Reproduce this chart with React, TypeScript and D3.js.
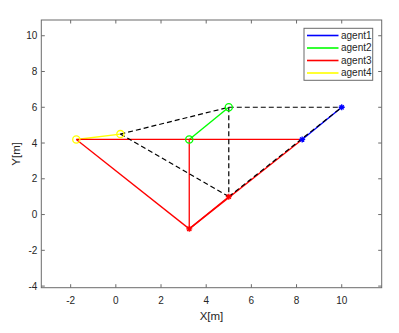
import React, { useEffect, useRef } from "react";
import * as d3 from "d3";

// agents and colours
const agents = ["agent1", "agent2", "agent3", "agent4"];
const agentColors = ["#0000ff", "#00ff00", "#ff0000", "#ffff00"];
const agentMarkers = ["star", "circle", "star", "circle"];

// initial positions (dashed black formation)
const startX = [10, 5, 5, 0.2];
const startY = [6, 6, 1, 4.5];

// final positions (red formation)
const endX = [8.25, 3.25, 3.25, -1.75];
const endY = [4.2, 4.2, -0.8, 4.2];

// formation edges (agent index pairs)
const edges = [[3, 1], [1, 0], [3, 2], [1, 2], [2, 0]];

// tick labels
const xTicks = [-2, 0, 2, 4, 6, 8, 10];
const yTicks = [-4, -2, 0, 2, 4, 6, 8, 10];

const App = () => {
    const svgRef = useRef<SVGSVGElement>(null);

    useEffect(() => {
        const svg = d3.select(svgRef.current);
        svg.selectAll("*").remove();

        const width = 399, height = 333;
        const margin = { top: 20, right: 17.3, bottom: 45.3, left: 41.3 };
        const font = "'Liberation Sans', Arial, sans-serif";
        const textColor = "#262626";
        const axisColor = "#6b6b6b";

        const x = d3.scaleLinear().domain([-3.3, 11.77]).range([margin.left, width - margin.right]);
        const y = d3.scaleLinear().domain([-4.09, 10.88]).range([height - margin.bottom, margin.top]);

        const x0 = margin.left, x1 = width - margin.right;
        const y0 = margin.top, y1 = height - margin.bottom;

        // white plot area
        svg.append("rect")
            .attr("x", x0).attr("y", y0)
            .attr("width", x1 - x0).attr("height", y1 - y0)
            .attr("fill", "white");

        const plot = svg.append("g");
        const line = d3.line<[number, number]>().x(d => x(d[0])).y(d => y(d[1]));

        // trajectories
        agents.forEach((_, i) => {
            plot.append("path")
                .attr("d", line([[startX[i], startY[i]], [endX[i], endY[i]]]))
                .attr("fill", "none")
                .attr("stroke", agentColors[i])
                .attr("stroke-width", 1.4);
        });

        // final formation in red
        edges.forEach(([a, b]) => {
            plot.append("path")
                .attr("d", line([[endX[a], endY[a]], [endX[b], endY[b]]]))
                .attr("fill", "none")
                .attr("stroke", "#ff0000")
                .attr("stroke-width", 1.3);
        });

        // initial formation dashed black
        edges.forEach(([a, b]) => {
            plot.append("path")
                .attr("d", line([[startX[a], startY[a]], [startX[b], startY[b]]]))
                .attr("fill", "none")
                .attr("stroke", "#000")
                .attr("stroke-width", 1.2)
                .attr("stroke-dasharray", "5,3");
        });

        // markers at start and end
        const drawMarker = (px: number, py: number, i: number) => {
            const cx = x(px), cy = y(py);
            if (agentMarkers[i] === "circle") {
                plot.append("circle")
                    .attr("cx", cx).attr("cy", cy).attr("r", 3.6)
                    .attr("fill", "none")
                    .attr("stroke", agentColors[i])
                    .attr("stroke-width", 1.3);
            } else {
                const s = 3;
                const d = `M${cx - s},${cy}L${cx + s},${cy}M${cx},${cy - s}L${cx},${cy + s}` +
                    `M${cx - s * 0.7},${cy - s * 0.7}L${cx + s * 0.7},${cy + s * 0.7}` +
                    `M${cx - s * 0.7},${cy + s * 0.7}L${cx + s * 0.7},${cy - s * 0.7}`;
                plot.append("path")
                    .attr("d", d)
                    .attr("stroke", agentColors[i])
                    .attr("stroke-width", 1.3);
            }
        };
        agents.forEach((_, i) => {
            drawMarker(startX[i], startY[i], i);
            drawMarker(endX[i], endY[i], i);
        });

        // box
        svg.append("rect")
            .attr("x", x0).attr("y", y0)
            .attr("width", x1 - x0).attr("height", y1 - y0)
            .attr("fill", "none")
            .attr("stroke", axisColor)
            .attr("stroke-width", 1);

        // ticks inward on all sides
        const tickLen = 3.5;
        xTicks.forEach(t => {
            svg.append("line").attr("x1", x(t)).attr("x2", x(t)).attr("y1", y1).attr("y2", y1 - tickLen).attr("stroke", axisColor);
            svg.append("line").attr("x1", x(t)).attr("x2", x(t)).attr("y1", y0).attr("y2", y0 + tickLen).attr("stroke", axisColor);
            svg.append("text")
                .attr("x", x(t)).attr("y", y1 + 16.5)
                .attr("text-anchor", "middle")
                .attr("font-family", font).attr("font-size", 10)
                .attr("fill", textColor)
                .text(t);
        });
        yTicks.forEach(t => {
            svg.append("line").attr("x1", x0).attr("x2", x0 + tickLen).attr("y1", y(t)).attr("y2", y(t)).attr("stroke", axisColor);
            svg.append("line").attr("x1", x1).attr("x2", x1 - tickLen).attr("y1", y(t)).attr("y2", y(t)).attr("stroke", axisColor);
            svg.append("text")
                .attr("x", x0 - 4).attr("y", y(t))
                .attr("dy", "0.35em")
                .attr("text-anchor", "end")
                .attr("font-family", font).attr("font-size", 10)
                .attr("fill", textColor)
                .text(t);
        });

        // axis labels
        svg.append("text")
            .attr("x", (x0 + x1) / 2).attr("y", y1 + 32)
            .attr("text-anchor", "middle")
            .attr("font-family", font).attr("font-size", 11.5)
            .attr("fill", textColor)
            .text("X[m]");
        svg.append("text")
            .attr("transform", `translate(20, ${(y0 + y1) / 2}) rotate(-90)`)
            .attr("text-anchor", "middle")
            .attr("font-family", font).attr("font-size", 11.5)
            .attr("fill", textColor)
            .text("Y[m]");

        // legend
        const lg = svg.append("g").attr("transform", "translate(304, 28.3)");
        lg.append("rect")
            .attr("width", 68.7).attr("height", 52)
            .attr("fill", "white")
            .attr("stroke", axisColor)
            .attr("stroke-width", 1);
        agents.forEach((name, i) => {
            const ly = 7.2 + i * 12.5;
            lg.append("line")
                .attr("x1", 3).attr("x2", 34.5)
                .attr("y1", ly).attr("y2", ly)
                .attr("stroke", agentColors[i])
                .attr("stroke-width", 1.6);
            lg.append("text")
                .attr("x", 37).attr("y", ly)
                .attr("dy", "0.35em")
                .attr("font-family", font).attr("font-size", 10)
                .attr("fill", textColor)
                .text(name);
        });
    }, []);

    return (
        <svg ref={svgRef} width={399} height={333}
            style={{ position: "absolute", left: 0, top: 0, background: "white" }} />
    );
};

export default App;
